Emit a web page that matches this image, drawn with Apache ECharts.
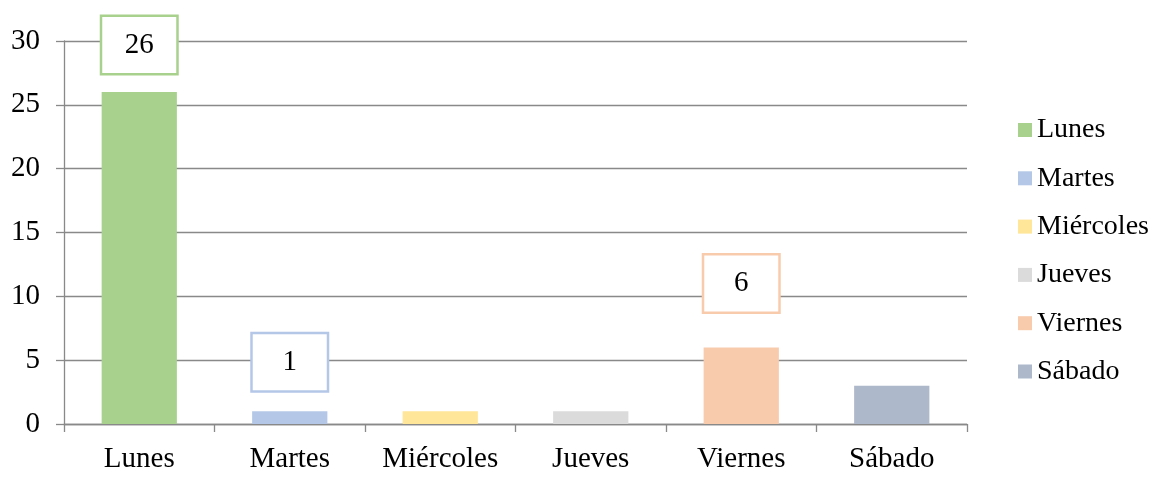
<!DOCTYPE html>
<html><head><meta charset="utf-8">
<script src="https://cdn.jsdelivr.net/npm/echarts@6/dist/echarts.min.js"></script>
<style>html,body{margin:0;padding:0;background:#fff}#c{width:1151px;height:484px}</style>
</head><body><div id="c"></div>
<script>
const categories = ['Lunes','Martes','Miércoles','Jueves','Viernes','Sábado'];
const values = [26, 1, 1, 1, 6, 3];
const colors = ['#A9D18E','#B4C7E7','#FFE699','#DBDBDB','#F8CBAD','#ADB9CA'];
const showLabel = [true, true, false, false, true, false];
const labelDistance = [19, 21, 0, 0, 36, 0];
const yTicks = [0, 5, 10, 15, 20, 25, 30];

const FONT = '"Liberation Serif", "Times New Roman", serif';
const chart = echarts.init(document.getElementById('c'));
const series = categories.map((name, i) => ({
  name: name,
  type: 'bar',
  stack: 'all',
  barWidth: '50%',
  itemStyle: { color: colors[i] },
  data: categories.map((c, j) => j === i ? {
    value: values[i],
    label: {
      show: showLabel[i],
      position: 'top',
      distance: labelDistance[i],
      formatter: '{c}',
      fontFamily: FONT,
      fontSize: 29,
      color: '#000',
      backgroundColor: '#fff',
      borderColor: colors[i],
      borderWidth: 2.5,
      width: 74,
      height: 56,
      lineHeight: 56,
      align: 'center'
    }
  } : null)
}));
chart.setOption({
  animation: false,
  grid: { left: 64, right: 184, top: 41, bottom: 60, containLabel: false },
  legend: {
    orient: 'vertical',
    left: 1013,
    top: 111,
    icon: 'rect',
    itemWidth: 14,
    itemHeight: 14,
    itemGap: 20.3,
    textStyle: { fontFamily: FONT, fontSize: 28, color: '#000' },
    data: categories
  },
  xAxis: {
    type: 'category',
    data: categories,
    axisLine: { lineStyle: { color: '#898989', width: 1.3 } },
    axisTick: { show: true, length: 8, interval: 0, alignWithLabel: false, lineStyle: { color: '#898989', width: 1.3 } },
    axisLabel: { interval: 0, fontFamily: FONT, fontSize: 29, color: '#000', margin: 21 }
  },
  yAxis: {
    type: 'value',
    min: yTicks[0],
    max: yTicks[yTicks.length - 1],
    interval: 5,
    axisLine: { show: true, lineStyle: { color: '#898989', width: 1.3 } },
    axisTick: { show: true, length: 8, lineStyle: { color: '#898989', width: 1.3 } },
    axisLabel: { fontFamily: FONT, fontSize: 29, color: '#000', margin: 24 },
    splitLine: { show: true, lineStyle: { color: '#898989', width: 1.3 } }
  },
  series: series
});
</script></body></html>
